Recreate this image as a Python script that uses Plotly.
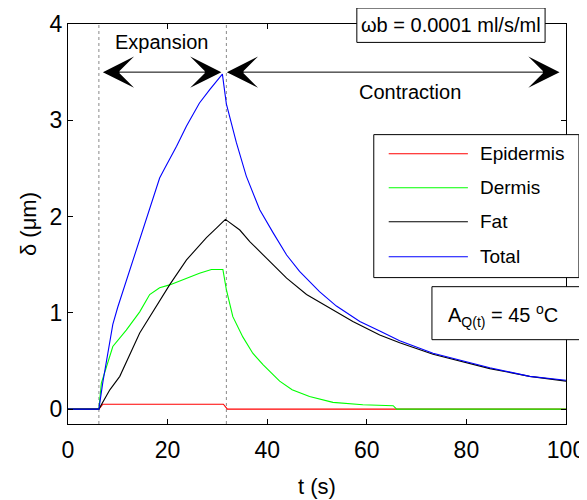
import plotly.graph_objects as go

# ---------------- data ----------------
t_on = 6.2      # heating switched on (s)
t_off = 31.8    # heating switched off (s)

t_epi = [0, 6.2, 7.0, 31.2, 32.0, 100]
d_epi = [0, 0, 0.05, 0.05, 0, 0]

t_der = [0, 6.2, 6.7, 7.7, 9.0, 11.7, 14.4, 16.4, 18.4, 20.4, 23.8, 26.4, 28.8, 31.1,
         31.8, 33.1, 35.1, 37.1, 39.2, 42.5, 45.0, 48.5, 53.2, 59.2, 65.3, 66.0, 100]
d_der = [0, 0, 0.27, 0.44, 0.65, 0.82, 1.01, 1.19, 1.26, 1.29, 1.36, 1.41, 1.45, 1.45,
         1.24, 0.96, 0.75, 0.58, 0.46, 0.29, 0.20, 0.13, 0.07, 0.045, 0.035, 0, 0]

t_fat = [0, 6.2, 8.4, 10.4, 14.4, 17.7, 20.4, 23.8, 27.8, 29.8, 31.6, 34.5, 36.5, 39.8,
         43.9, 47.9, 51.9, 57.2, 62.6, 66.6, 73.3, 84.7, 92.7, 100]
d_fat = [0, 0, 0.20, 0.34, 0.79, 1.07, 1.29, 1.55, 1.78, 1.88, 1.97, 1.86, 1.74, 1.57,
         1.36, 1.19, 1.07, 0.91, 0.77, 0.69, 0.57, 0.42, 0.34, 0.29]

t_tot = [0, 6.2, 7.0, 8.0, 9.0, 10.0, 11.0, 13.4, 16.0, 18.4, 19.4, 21.8, 23.8, 26.4,
         28.5, 31.0, 31.8, 33.8, 35.8, 38.5, 41.2, 43.9, 46.5, 50.5, 53.9, 58.6, 62.6,
         66.6, 73.3, 84.7, 92.7, 100]
d_tot = [0, 0, 0.28, 0.60, 0.88, 1.06, 1.22, 1.62, 2.04, 2.40, 2.50, 2.73, 2.94, 3.18,
         3.32, 3.48, 3.17, 2.77, 2.42, 2.07, 1.83, 1.60, 1.43, 1.22, 1.07, 0.91, 0.81,
         0.71, 0.58, 0.43, 0.34, 0.30]

series_names = ["Epidermis", "Dermis", "Fat", "Total"]
series_colors = ["#ff0000", "#00ff00", "#000000", "#0000ff"]

x_ticks = [0, 20, 40, 60, 80, 100]
y_ticks = [0, 1, 2, 3, 4]

arrow_y = 3.5
expansion_span = (6.7, 30.8)
contraction_span = (31.6, 98.7)

FONT = "Liberation Sans, Arial, sans-serif"

fig = go.Figure()

# heating on/off markers
for tv in (t_on, t_off):
    fig.add_shape(type="line", xref="x", yref="paper", x0=tv, x1=tv, y0=0, y1=1,
                  line=dict(color="#888888", width=1, dash="dot"), layer="below")

for t, d, name, col in zip([t_epi, t_der, t_fat, t_tot], [d_epi, d_der, d_fat, d_tot],
                           series_names, series_colors):
    fig.add_trace(go.Scatter(x=t, y=d, mode="lines", name=name,
                             line=dict(color=col, width=1.1), showlegend=False))

# arrows
for (a, b) in (expansion_span, contraction_span):
    fig.add_annotation(x=b, y=arrow_y, ax=a, ay=arrow_y, xref="x", yref="y",
                       axref="x", ayref="y", text="", showarrow=True,
                       arrowhead=3, startarrowhead=3, arrowside="end+start",
                       arrowsize=5.2, startarrowsize=5.2, arrowwidth=1.0,
                       arrowcolor="black")

fig.add_annotation(x=18.8, y=3.81, xref="x", yref="y", text="Expansion", showarrow=False,
                   xanchor="center", yanchor="middle",
                   font=dict(family=FONT, size=20, color="black"))
fig.add_annotation(x=68.6, y=3.29, xref="x", yref="y", text="Contraction", showarrow=False,
                   xanchor="center", yanchor="middle",
                   font=dict(family=FONT, size=20, color="black"))

# omega box
fig.add_shape(type="rect", xref="paper", yref="paper", x0=0.580, x1=0.958, y0=0.954, y1=1.04,
              line=dict(color="black", width=1), fillcolor="white", layer="above")
fig.add_annotation(x=0.769, y=0.998, xref="paper", yref="paper", text="ωb = 0.0001 ml/s/ml",
                   showarrow=False, xanchor="center", yanchor="middle",
                   font=dict(family=FONT, size=20, color="black"))

# legend box (manual)
fig.add_shape(type="rect", xref="paper", yref="paper", x0=0.614, x1=1.026, y0=0.366, y1=0.7234,
              line=dict(color="black", width=1), fillcolor="white", layer="above")
leg_y = [0.6758, 0.5908, 0.5058, 0.4183]
for yy, name, col in zip(leg_y, series_names, series_colors):
    fig.add_shape(type="line", xref="paper", yref="paper", x0=0.644, x1=0.803, y0=yy, y1=yy,
                  line=dict(color=col, width=1.1), layer="above")
    fig.add_annotation(x=0.823, y=yy, xref="paper", yref="paper", text=name, showarrow=False,
                       xanchor="left", yanchor="middle",
                       font=dict(family=FONT, size=19, color="black"))

# A_Q box
fig.add_shape(type="rect", xref="paper", yref="paper", x0=0.7308, x1=1.028, y0=0.2108, y1=0.3433,
              line=dict(color="black", width=1), fillcolor="white", layer="above")
fig.add_annotation(x=0.873, y=0.272, xref="paper", yref="paper",
                   text="A<sub>Q(t)</sub> = 45 <sup>o</sup>C", showarrow=False,
                   xanchor="center", yanchor="middle",
                   font=dict(family=FONT, size=20, color="black"))

fig.update_xaxes(range=[0, 100], tickvals=x_ticks, ticks="inside", ticklen=5,
                 showline=True, linecolor="black", linewidth=1, mirror="ticks",
                 showgrid=False, zeroline=False, tickcolor="black",
                 tickfont=dict(family=FONT, size=23, color="black"), ticklabelstandoff=5,
                 title=dict(text="t (s)", font=dict(family=FONT, size=22, color="black"),
                            standoff=17))
fig.update_yaxes(range=[-0.155, 4.0], tickvals=y_ticks, ticks="inside", ticklen=5,
                 showline=True, linecolor="black", linewidth=1, mirror="ticks",
                 showgrid=False, zeroline=False, tickcolor="black",
                 tickfont=dict(family=FONT, size=23, color="black"), ticklabelstandoff=0,
                 title=dict(text="δ (μm)", font=dict(family=FONT, size=22, color="black"),
                            standoff=6))

# the page body adds an 8px margin, so the figure is sized to fit the 587x500 window
fig.update_layout(width=579, height=492, paper_bgcolor="white", plot_bgcolor="white",
                  margin=dict(l=60, r=21, t=16, b=76, autoexpand=False), showlegend=False)

fig.write_html("out.html")
